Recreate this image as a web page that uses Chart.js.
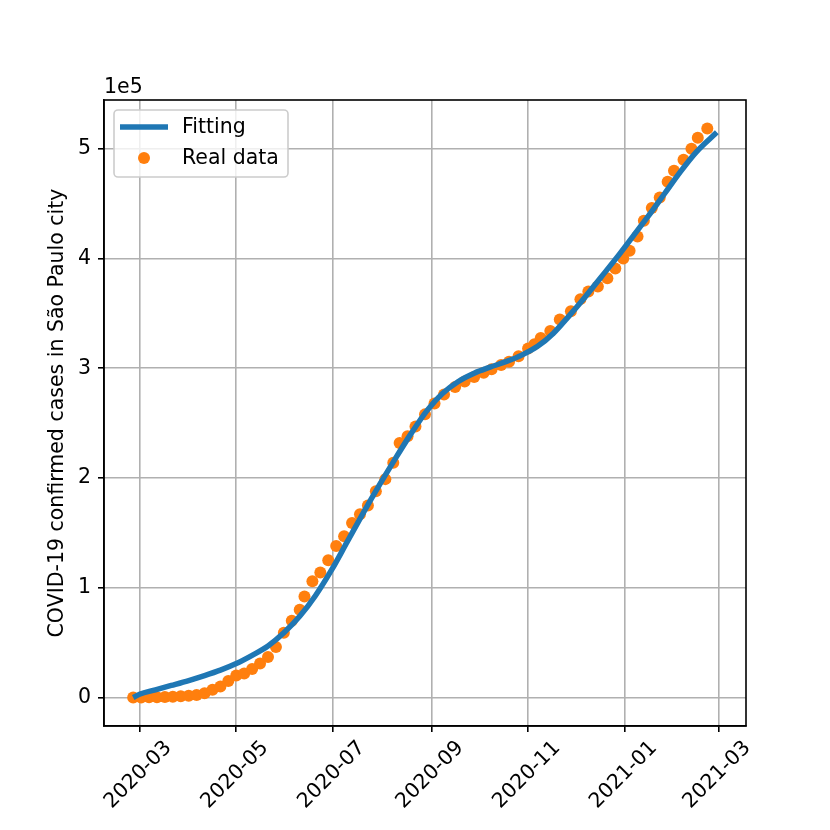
<!DOCTYPE html>
<html>
<head>
<meta charset="utf-8">
<script src="https://cdn.jsdelivr.net/npm/chart.js@4.4.1/dist/chart.umd.min.js"></script>
<style>
  html, body { margin: 0; padding: 0; background: #fff; }
</style>
</head>
<body>
<canvas id="chart" width="830" height="830"></canvas>
<script>
// real data, São Paulo city confirmed cases
const realDates = [
  '2020-02-26', '2020-03-02', '2020-03-07', '2020-03-12', '2020-03-17', '2020-03-22', '2020-03-27',
  '2020-04-01', '2020-04-06', '2020-04-11', '2020-04-16', '2020-04-21', '2020-04-26',
  '2020-05-01', '2020-05-06', '2020-05-11', '2020-05-16', '2020-05-21', '2020-05-26', '2020-05-31',
  '2020-06-05', '2020-06-10', '2020-06-13', '2020-06-18', '2020-06-23', '2020-06-28',
  '2020-07-03', '2020-07-08', '2020-07-13', '2020-07-18', '2020-07-23', '2020-07-28',
  '2020-08-03', '2020-08-08', '2020-08-12', '2020-08-17', '2020-08-22', '2020-08-28',
  '2020-09-03', '2020-09-09', '2020-09-16', '2020-09-22', '2020-09-28',
  '2020-10-04', '2020-10-09', '2020-10-15', '2020-10-20', '2020-10-26',
  '2020-11-01', '2020-11-05', '2020-11-09', '2020-11-15', '2020-11-21', '2020-11-28',
  '2020-12-04', '2020-12-09', '2020-12-15', '2020-12-21', '2020-12-26', '2020-12-31',
  '2021-01-04', '2021-01-09', '2021-01-13', '2021-01-18', '2021-01-23', '2021-01-28',
  '2021-02-01', '2021-02-07', '2021-02-12', '2021-02-16', '2021-02-22'
];
const realCases = [
  0, 100, 200, 300, 500, 800, 1200,
  1700, 2400, 4000, 7000, 10000, 15000,
  20000, 22000, 26000, 31000, 37000, 46000, 59000,
  70000, 80000, 92000, 106000, 114000, 125000,
  138000, 147000, 159000, 167000, 175000, 188000,
  199000, 214000, 232000, 238000, 247000, 258000,
  268000, 276000, 283000, 288000, 292000,
  296000, 299000, 303000, 306000, 311000,
  318000, 322000, 327500, 334000, 344500, 352000,
  363000, 370000, 374500, 382000, 391000, 400000,
  407000, 420000, 434500, 446000, 455500, 470000,
  480000, 490000, 500000, 510000, 518500
];

// fitted curve
const fitDates = [
  '2020-02-26', '2020-03-01', '2020-03-11', '2020-03-21', '2020-04-01', '2020-04-11', '2020-04-21',
  '2020-05-01', '2020-05-11', '2020-05-21', '2020-05-31', '2020-06-10', '2020-06-20', '2020-06-30',
  '2020-07-10', '2020-07-20', '2020-07-30', '2020-08-09', '2020-08-19', '2020-08-29',
  '2020-09-08', '2020-09-18', '2020-09-28', '2020-10-08', '2020-10-18', '2020-10-28',
  '2020-11-07', '2020-11-17', '2020-11-27', '2020-12-07', '2020-12-17', '2020-12-27',
  '2021-01-06', '2021-01-16', '2021-01-26', '2021-02-05', '2021-02-15', '2021-02-28'
];
const fitCases = [
  0, 3000, 7000, 11000, 15500, 20000, 25000,
  31000, 38500, 47000, 59000, 74000, 93000, 116000,
  142000, 168000, 193000, 217000, 240000, 261000,
  277000, 288000, 295500, 301000, 306000, 312000,
  320000, 332000, 348000, 365000, 383000, 401000,
  420000, 439000, 459000, 479000, 497000, 515000
];

const xTickLabels = ['2020-03', '2020-05', '2020-07', '2020-09', '2020-11', '2021-01', '2021-03'];
const yTickValues = [0, 100000, 200000, 300000, 400000, 500000];

const DAY = 86400000;
const origin = Date.parse('2020-03-01');
function toDay(s) { return (Date.parse(s) - origin) / DAY; }

// matplotlib-like 5% margins
const allX = realDates.concat(fitDates).map(toDay);
const allY = realCases.concat(fitCases);
const x0 = Math.min(...allX), x1 = Math.max(...allX);
const y0 = Math.min(...allY), y1 = Math.max(...allY);
const xPad = (x1 - x0) * 0.05, yPad = (y1 - y0) * 0.05;

const FONT = { family: 'DejaVu Sans', size: 20.5 };

const decorations = {
  id: 'decorations',
  afterDraw(chart) {
    const { ctx, chartArea: a } = chart;
    ctx.save();
    // frame
    ctx.strokeStyle = '#000';
    ctx.lineWidth = 1.6;
    ctx.strokeRect(a.left, a.top, a.right - a.left, a.bottom - a.top);

    // offset text
    ctx.fillStyle = '#000';
    ctx.font = '20.5px "DejaVu Sans"';
    ctx.textAlign = 'left';
    ctx.textBaseline = 'alphabetic';
    ctx.fillText('1e5', a.left, a.top - 7);

    // legend
    const lx = a.left + 10, ly = a.top + 10;
    ctx.beginPath();
    ctx.roundRect(lx, ly, 174, 67, 4);
    ctx.fillStyle = 'rgba(255,255,255,0.8)';
    ctx.fill();
    ctx.strokeStyle = '#cccccc';
    ctx.lineWidth = 1.6;
    ctx.stroke();

    const ds = chart.data.datasets;
    ctx.beginPath();
    ctx.moveTo(lx + 6, ly + 17);
    ctx.lineTo(lx + 54, ly + 17);
    ctx.strokeStyle = ds[0].borderColor;
    ctx.lineWidth = 5.5;
    ctx.stroke();

    ctx.beginPath();
    ctx.arc(lx + 30, ly + 48, 6, 0, Math.PI * 2);
    ctx.fillStyle = ds[1].backgroundColor;
    ctx.fill();

    ctx.fillStyle = '#000';
    ctx.textBaseline = 'middle';
    ctx.fillText(ds[0].label, lx + 68, ly + 18);
    ctx.fillText(ds[1].label, lx + 68, ly + 49);
    ctx.restore();
  }
};

new Chart(document.getElementById('chart'), {
  type: 'scatter',
  data: {
    datasets: [{
      label: 'Fitting',
      data: fitDates.map((d, i) => ({ x: toDay(d), y: fitCases[i] })),
      showLine: true,
      borderColor: '#1f77b4',
      borderWidth: 5.5,
      pointRadius: 0,
      cubicInterpolationMode: 'monotone',
      order: 0
    }, {
      label: 'Real data',
      data: realDates.map((d, i) => ({ x: toDay(d), y: realCases[i] })),
      backgroundColor: '#ff7f0e',
      borderWidth: 0,
      pointRadius: 6,
      order: 1
    }]
  },
  options: {
    responsive: false,
    animation: false,
    layout: { padding: { top: 100, right: 84, left: 0, bottom: 0 } },
    plugins: { legend: { display: false }, tooltip: { enabled: false } },
    scales: {
      x: {
        type: 'linear',
        min: x0 - xPad,
        max: x1 + xPad,
        afterBuildTicks: s => { s.ticks = xTickLabels.map(l => ({ value: toDay(l + '-01') })); },
        afterFit: s => { s.height = 104; },
        grid: { color: '#b0b0b0', lineWidth: 1.6, tickLength: 6, tickColor: '#000', tickWidth: 1.6 },
        border: { display: true, color: '#000', width: 1.6 },
        ticks: {
          autoSkip: false,
          minRotation: 45,
          maxRotation: 45,
          padding: 4,
          labelOffset: 29,
          color: '#000',
          font: FONT,
          callback: (v, i) => xTickLabels[i]
        }
      },
      y: {
        type: 'linear',
        min: y0 - yPad,
        max: y1 + yPad,
        afterBuildTicks: s => { s.ticks = yTickValues.map(v => ({ value: v })); },
        afterFit: s => { s.width = 104; },
        grid: { color: '#b0b0b0', lineWidth: 1.6, tickLength: 6, tickColor: '#000', tickWidth: 1.6 },
        border: { display: true, color: '#000', width: 1.6 },
        title: {
          display: true,
          text: 'COVID-19 confirmed cases in São Paulo city',
          color: '#000',
          font: FONT,
          padding: { top: 45, bottom: 0 }
        },
        ticks: {
          padding: 7,
          color: '#000',
          font: FONT,
          callback: v => String(v / 100000)
        }
      }
    }
  },
  plugins: [decorations]
});
</script>
</body>
</html>
